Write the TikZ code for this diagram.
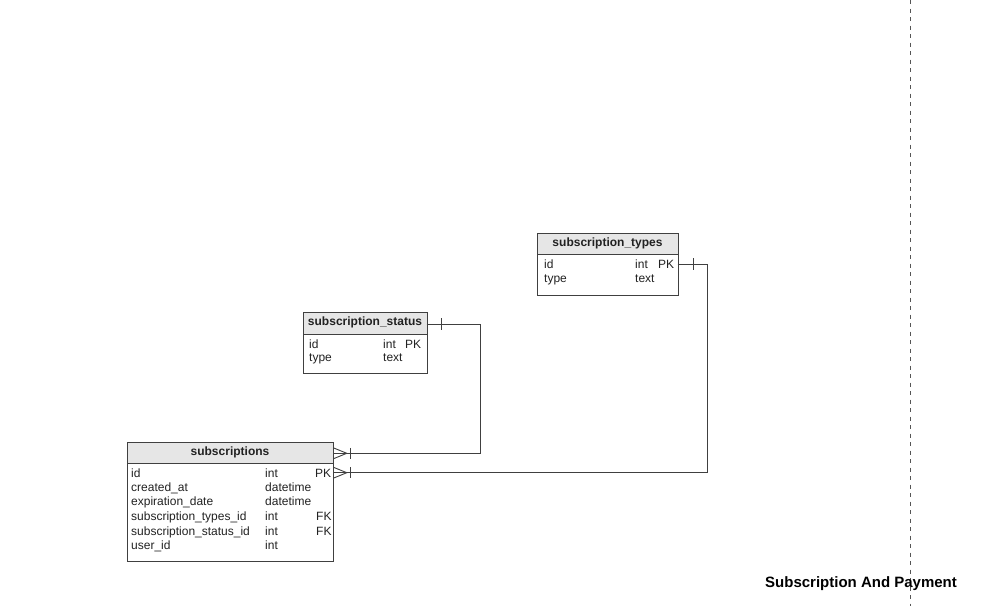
\documentclass[tikz,border=0pt]{standalone}
\usepackage{fontspec}
\setmainfont{Liberation Sans}
\definecolor{linecol}{HTML}{404040}
\definecolor{hdrfill}{HTML}{E6E6E6}
\definecolor{txtcol}{HTML}{222222}
\definecolor{dashcol}{HTML}{555555}
\begin{document}
\begin{tikzpicture}[x=1pt,y=-1pt,
  tbl/.style={draw=linecol, line width=1.1pt, inner sep=0pt, anchor=north west},
  hdrbox/.style={fill=hdrfill, draw=linecol, line width=1.1pt, inner sep=0pt, anchor=north west},
  htext/.style={font=\fontsize{12}{14}\selectfont\bfseries, inner sep=0pt, anchor=base, text=txtcol},
  ftext/.style={font=\fontsize{12}{14}\selectfont, inner sep=0pt, anchor=base west, text=txtcol},
  conn/.style={draw=linecol, line width=0.9pt},
]
\useasboundingbox[fill=white] (0,0) rectangle (981,606);

% ---------- subscription_types ----------
\node[tbl, minimum width=140.4pt, minimum height=61.7pt] (types) at (537.3,233.3) {};
\node[hdrbox, minimum width=140.4pt, minimum height=21pt] (typesH) at (537.3,233.3) {};
\node[htext] (typesT) at (607.5,246.6) {subscription\_types};
\node[ftext] (typesF1) at (544,268.3) {id};
\node[ftext] (typesF1t) at (635,268.3) {int};
\node[ftext] (typesF1k) at (658,268.3) {PK};
\node[ftext] (typesF2) at (544,282.3) {type};
\node[ftext] (typesF2t) at (635,282.3) {text};

% ---------- subscription_status ----------
\node[tbl, minimum width=123.4pt, minimum height=61pt] (status) at (303.3,312.3) {};
\node[hdrbox, minimum width=123.4pt, minimum height=22pt] (statusH) at (303.3,312.3) {};
\node[htext] (statusT) at (365,325.3) {subscription\_status};
\node[ftext] (statusF1) at (309,348.3) {id};
\node[ftext] (statusF1t) at (383,348.3) {int};
\node[ftext] (statusF1k) at (405,348.3) {PK};
\node[ftext] (statusF2) at (309,361.3) {type};
\node[ftext] (statusF2t) at (383,361.3) {text};

% ---------- subscriptions ----------
\node[tbl, minimum width=206.6pt, minimum height=118.7pt] (subs) at (126.7,442.3) {};
\node[hdrbox, minimum width=206.6pt, minimum height=21pt] (subsH) at (126.7,442.3) {};
\node[htext] (subsT) at (230,455.3) {subscriptions};
\node[ftext] (s1) at (131,477.3) {id};
\node[ftext] (s1t) at (265,477.3) {int};
\node[ftext] (s1k) at (315,477.3) {PK};
\node[ftext] (s2) at (131,491.7) {created\_at};
\node[ftext] (s2t) at (265,491.7) {datetime};
\node[ftext] (s3) at (131,505.7) {expiration\_date};
\node[ftext] (s3t) at (265,505.7) {datetime};
\node[ftext] (s4) at (131,520.3) {subscription\_types\_id};
\node[ftext] (s4t) at (265,520.3) {int};
\node[ftext] (s4k) at (316,520.3) {FK};
\node[ftext] (s5) at (131,535) {subscription\_status\_id};
\node[ftext] (s5t) at (265,535) {int};
\node[ftext] (s5k) at (316,535) {FK};
\node[ftext] (s6) at (131,549.3) {user\_id};
\node[ftext] (s6t) at (265,549.3) {int};

% ---------- connector anchors ----------
\coordinate (statusA) at (426.7,324.3);
\coordinate (statusB) at (480,324.3);
\coordinate (statusC) at (480,453.3);
\coordinate (subsA) at (333.3,453.3);
\coordinate (typesA) at (677.7,264.3);
\coordinate (typesB) at (707,264.3);
\coordinate (typesC) at (707,472.7);
\coordinate (subsB) at (333.3,472.7);

% status -> subscriptions
\draw[conn] (statusA) -- (statusB) -- (statusC) -- (subsA);
\draw[conn] ([xshift=15pt,yshift=6pt]statusA) -- ([xshift=15pt,yshift=-6pt]statusA);
\draw[conn] ([yshift=5.5pt]subsA) -- ([xshift=13.5pt]subsA) -- ([yshift=-5.5pt]subsA);
\draw[conn] ([xshift=17.5pt,yshift=5.5pt]subsA) -- ([xshift=17.5pt,yshift=-5.5pt]subsA);

% types -> subscriptions
\draw[conn] (typesA) -- (typesB) -- (typesC) -- (subsB);
\draw[conn] ([xshift=15.5pt,yshift=6pt]typesA) -- ([xshift=15.5pt,yshift=-6pt]typesA);
\draw[conn] ([yshift=5.5pt]subsB) -- ([xshift=13.5pt]subsB) -- ([yshift=-5.5pt]subsB);
\draw[conn] ([xshift=17.5pt,yshift=5.5pt]subsB) -- ([xshift=17.5pt,yshift=-5.5pt]subsB);

% ---------- divider and title ----------
\coordinate (dtop) at (910,0);
\coordinate (dbot) at (910,606);
\draw[dashcol, line width=1pt, dash pattern=on 4pt off 4.5pt] (dtop) -- (dbot);
\node[font=\fontsize{15}{18}\selectfont\bfseries, inner sep=0pt, anchor=base west, text=black] (title) at (765,587) {Subscription And Payment};
\end{tikzpicture}
\end{document}
